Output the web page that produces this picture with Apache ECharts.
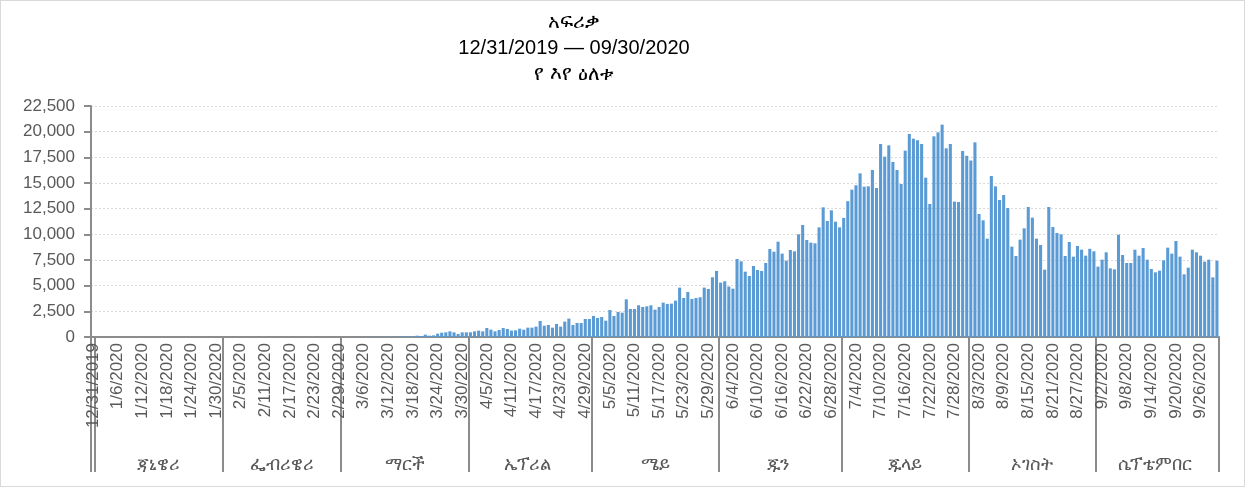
<!DOCTYPE html>
<html>
<head>
<meta charset="utf-8">
<script src="https://cdn.jsdelivr.net/npm/echarts@6/dist/echarts.min.js"></script>
<style>
html,body{margin:0;padding:0;background:#fff;}
#chart{width:1245px;height:487px;box-sizing:border-box;border:1px solid #d9d9d9;}
</style>
</head>
<body>
<div id="chart"></div>
<script>
// Title lines
const titleLines = ['አፍሪቃ', '12/31/2019 — 09/30/2020', 'የ እየ ዕለቱ'];

// Month group names (first group = lone 12/31/2019 day, unlabeled)
const monthNames = ['', 'ጃኒዌሪ', 'ፌብሪዌሪ', 'ማርች', 'ኤፕሪል', 'ሜይ', 'ጁን', 'ጁላይ', 'ኦገስት', 'ሴፕቴምበር'];
const monthDays = [1, 31, 29, 31, 30, 31, 30, 31, 31, 30];

// Y axis ticks
const yTicks = [0, 2500, 5000, 7500, 10000, 12500, 15000, 17500, 20000, 22500];

// Daily new cases, 12/31/2019 .. 9/30/2020
const casesDecJan = [0,
  0,0,0,0,0,0,0,0,0,0, 0,0,0,0,0,0,0,0,0,0, 0,0,0,0,0,0,0,0,0,0, 0];
const casesFeb = [0,0,0,0,0,0,0,0,0,0, 0,0,0,1,0,0,0,0,0,0, 0,0,0,0,1,0,1,1,1];
const casesMar = [2,3,2,5,8,12,10,25,15,30, 20,40,45,60,70,80,90,60,130,90,
  230,130,160,325,420,455,550,455,290,455, 455];
const casesApr = [455,550,620,550,880,715,550,680,880,780,
  620,650,810,715,910,910,1010,1560,1100,1170,
  910,1270,1010,1500,1790,1170,1365,1365,1755,1755];
const casesMay = [2050,1850,1950,1590,2630,2050,2440,2370,3670,2730,
  2730,3090,2925,2990,3090,2665,2925,3350,3220,3250,
  3540,4810,3800,4390,3705,3800,3870,4810,4680,5820, 6435];
const casesJun = [5300,5430,4910,4708,7600,7370,6365,5940,6915,6525,
  6430,7210,8570,8310,9285,8120,7435,8475,8345,10000,
  10910,9450,9190,9125,10680,12630,11300,12340,11235,10680];
const casesJul = [11600,13230,14350,14775,15940,14645,14675,16270,14515,18800,
  17565,18670,17050,16270,14900,18150,19775,19320,19160,18800,
  15520,12955,19545,19935,20685,18380,18800,13185,13150,18120, 17650];
const casesAug = [17190,18960,11980,11365,9580,15680,14675,13345,13830,12565,
  8800,7890,9480,10585,12665,11625,9580,8960,6560,12665,
  10715,10130,10000,7890,9255,7825,8865,8505,7920,8590, 8345];
const casesSep = [6850,7530,8250,6690,6590,9970,7990,7210,7210,8505,
  7920,8670,7530,6625,6300,6460,7470,8700,8120,9350,
  7825,6105,6755,8505,8250,7920,7340,7530,5810,7435];

const values = [].concat(casesDecJan, casesFeb, casesMar, casesApr, casesMay, casesJun, casesJul, casesAug, casesSep);

// Category labels (dates)
const categories = [];
(function(){
  const d = new Date(2019, 11, 31);
  for (let i = 0; i < values.length; i++) {
    categories.push((d.getMonth()+1) + '/' + d.getDate() + '/' + d.getFullYear());
    d.setDate(d.getDate() + 1);
  }
})();

// group boundaries and centers
const groupStart = [], groupMid = {};
(function(){
  let s = 0;
  monthDays.forEach(function(n, k){
    groupStart.push(s);
    groupMid[Math.floor(s + (n - 1) / 2)] = monthNames[k];
    s += n;
  });
})();
const startSet = new Set(groupStart);

const FONT = '"Liberation Sans", "DejaVu Sans", sans-serif';
const TXT = '#595959';
const AX = '#8c8c8c';

const chart = echarts.init(document.getElementById('chart'), null, {renderer: 'canvas'});
chart.setOption({
  animation: false,
  backgroundColor: '#ffffff',
  title: {
    text: titleLines.join('\n'),
    left: 568,
    top: 3,
    textAlign: 'center',
    textStyle: {fontFamily: FONT, fontSize: 20, fontWeight: 'normal', color: '#000', lineHeight: 26}
  },
  grid: {left: 90, right: 25, top: 105, bottom: 149, containLabel: false},
  xAxis: [{
    type: 'category',
    data: categories,
    boundaryGap: true,
    axisLine: {show: true, lineStyle: {color: AX, width: 2}},
    axisTick: {show: false},
    axisLabel: {
      interval: 5, rotate: 90, fontSize: 17, color: TXT, fontFamily: FONT, margin: 6
    },
    splitLine: {show: false}
  }, {
    type: 'category',
    data: categories,
    position: 'bottom',
    boundaryGap: true,
    axisLine: {show: false},
    axisTick: {
      show: true, length: 135, inside: false,
      interval: function(idx){ return startSet.has(idx); },
      lineStyle: {color: AX, width: 2}
    },
    axisLabel: {
      show: true, margin: 119, fontSize: 18, color: TXT, fontFamily: FONT,
      interval: function(idx){ return groupMid[idx] !== undefined; },
      formatter: function(v, idx){ return groupMid[idx] || ''; }
    },
    splitLine: {show: false}
  }],
  yAxis: {
    type: 'value',
    min: 0, max: 22500, interval: 2500,
    axisLine: {show: true, lineStyle: {color: AX, width: 2}},
    axisTick: {show: true, length: 7, lineStyle: {color: AX, width: 2}},
    axisLabel: {
      fontSize: 17, color: TXT, fontFamily: FONT, margin: 16,
      formatter: function(v){ return yTicks.indexOf(v) >= 0 ? v.toLocaleString('en-US') : ''; }
    },
    splitLine: {show: true, lineStyle: {color: '#d9d9d9', type: [2, 2], width: 1}}
  },
  series: [{
    type: 'bar',
    data: values,
    xAxisIndex: 0,
    barCategoryGap: '25%',
    itemStyle: {color: '#5b9bd5'}
  }]
});
</script>
</body>
</html>
